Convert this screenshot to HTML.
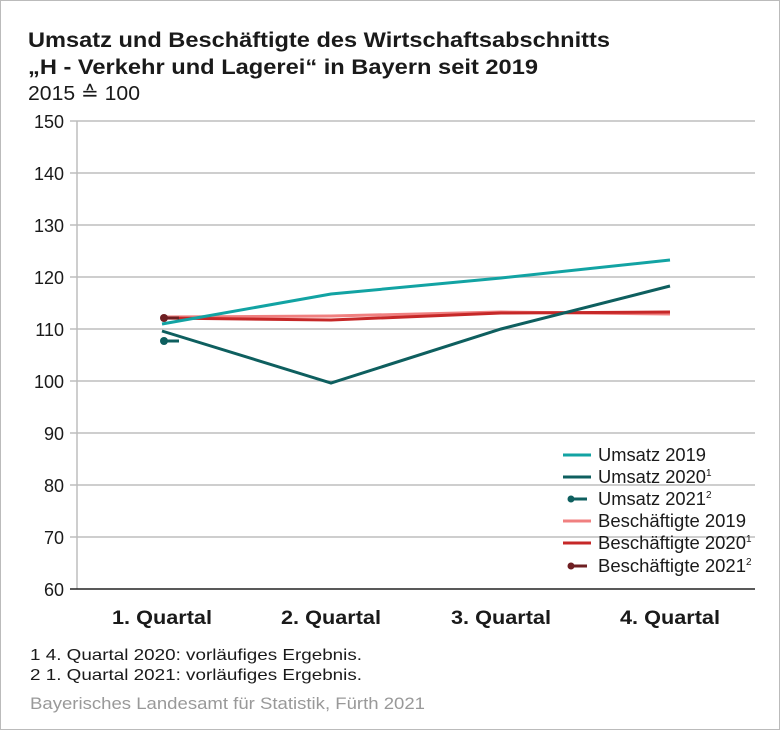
<!DOCTYPE html>
<html><head><meta charset="utf-8"><style>
html,body{margin:0;padding:0;background:#fff}
body{width:780px;height:730px;overflow:hidden;font-family:"Liberation Sans",sans-serif}
</style></head><body>
<svg width="780" height="730" xmlns="http://www.w3.org/2000/svg" font-family="Liberation Sans, sans-serif">
<rect x="0.5" y="0.5" width="779" height="729" fill="#fff" stroke="#bbb"/>
<text x="28" y="47" font-size="21" font-weight="bold" fill="#1a1a1a" textLength="582" lengthAdjust="spacingAndGlyphs">Umsatz und Beschäftigte des Wirtschaftsabschnitts</text>
<text x="28" y="74" font-size="21" font-weight="bold" fill="#1a1a1a" textLength="510" lengthAdjust="spacingAndGlyphs">„H - Verkehr und Lagerei“ in Bayern seit 2019</text>
<text x="28" y="100" font-size="20" fill="#1a1a1a" textLength="112" lengthAdjust="spacingAndGlyphs">2015 ≙ 100</text>
<g stroke="#bdbdbd" stroke-width="1.5">
<line x1="70" x2="755" y1="121" y2="121"/><line x1="70" x2="755" y1="173" y2="173"/>
<line x1="70" x2="755" y1="225" y2="225"/><line x1="70" x2="755" y1="277" y2="277"/>
<line x1="70" x2="755" y1="329" y2="329"/><line x1="70" x2="755" y1="381" y2="381"/>
<line x1="70" x2="755" y1="433" y2="433"/><line x1="70" x2="755" y1="485" y2="485"/>
<line x1="70" x2="755" y1="537" y2="537"/>
<line x1="77" x2="77" y1="121" y2="589"/>
</g>
<line x1="70" x2="755" y1="589" y2="589" stroke="#222" stroke-width="1.5"/>
<g font-size="18" fill="#1a1a1a" text-anchor="end">
<text x="64" y="128">150</text><text x="64" y="180">140</text><text x="64" y="232">130</text>
<text x="64" y="284">120</text><text x="64" y="336">110</text><text x="64" y="388">100</text>
<text x="64" y="440">90</text><text x="64" y="492">80</text><text x="64" y="544">70</text><text x="64" y="596">60</text>
</g>
<g font-size="19" font-weight="bold" fill="#1a1a1a" text-anchor="middle">
<text x="162" y="624" textLength="100" lengthAdjust="spacingAndGlyphs">1. Quartal</text><text x="331" y="624" textLength="100" lengthAdjust="spacingAndGlyphs">2. Quartal</text>
<text x="501" y="624" textLength="100" lengthAdjust="spacingAndGlyphs">3. Quartal</text><text x="670" y="624" textLength="100" lengthAdjust="spacingAndGlyphs">4. Quartal</text>
</g>
<g fill="none" stroke-width="3">
<polyline stroke="#f08080" points="162,317 331,316 501,312 670,314"/>
<polyline stroke="#c62828" points="162,318 331,320 501,313 670,312"/>
<polyline stroke="#12a3a3" points="162,324 331,294 501,278 670,260"/>
<polyline stroke="#0e5f5f" points="162,331 331,383 501,329 670,286"/>
<line stroke="#0e5f5f" x1="163" y1="341" x2="179" y2="341"/>
<line stroke="#6e1f22" x1="163" y1="318" x2="179" y2="318"/>
</g>
<circle cx="164" cy="341" r="4" fill="#0e5f5f"/>
<circle cx="164" cy="318" r="4" fill="#6e1f22"/>
<g stroke-width="3">
<line x1="563" x2="591" y1="455" y2="455" stroke="#12a3a3"/>
<line x1="563" x2="591" y1="477" y2="477" stroke="#0e5f5f"/>
<line x1="572" x2="587" y1="499" y2="499" stroke="#0e5f5f"/>
<line x1="563" x2="591" y1="521" y2="521" stroke="#f08080"/>
<line x1="563" x2="591" y1="543" y2="543" stroke="#c62828"/>
<line x1="572" x2="587" y1="566" y2="566" stroke="#6e1f22"/>
</g>
<circle cx="571" cy="499" r="3.5" fill="#0e5f5f"/>
<circle cx="571" cy="566" r="3.5" fill="#6e1f22"/>
<g font-size="18" fill="#1a1a1a">
<text x="598" y="461" textLength="108" lengthAdjust="spacingAndGlyphs">Umsatz 2019</text>
<text x="598" y="483"><tspan textLength="108" lengthAdjust="spacingAndGlyphs">Umsatz 2020</tspan><tspan font-size="10" dy="-7">1</tspan></text>
<text x="598" y="505"><tspan textLength="108" lengthAdjust="spacingAndGlyphs">Umsatz 2021</tspan><tspan font-size="10" dy="-7">2</tspan></text>
<text x="598" y="527" textLength="148" lengthAdjust="spacingAndGlyphs">Beschäftigte 2019</text>
<text x="598" y="549"><tspan textLength="148" lengthAdjust="spacingAndGlyphs">Beschäftigte 2020</tspan><tspan font-size="10" dy="-7">1</tspan></text>
<text x="598" y="572"><tspan textLength="148" lengthAdjust="spacingAndGlyphs">Beschäftigte 2021</tspan><tspan font-size="10" dy="-7">2</tspan></text>
</g>
<g font-size="16" fill="#1a1a1a">
<text x="30" y="660" textLength="332" lengthAdjust="spacingAndGlyphs">1  4. Quartal 2020: vorläufiges Ergebnis.</text>
<text x="30" y="680" textLength="332" lengthAdjust="spacingAndGlyphs">2  1. Quartal 2021: vorläufiges Ergebnis.</text>
</g>
<text x="30" y="709" font-size="17" fill="#999" textLength="395" lengthAdjust="spacingAndGlyphs">Bayerisches Landesamt für Statistik, Fürth 2021</text>
</svg>
</body></html>
